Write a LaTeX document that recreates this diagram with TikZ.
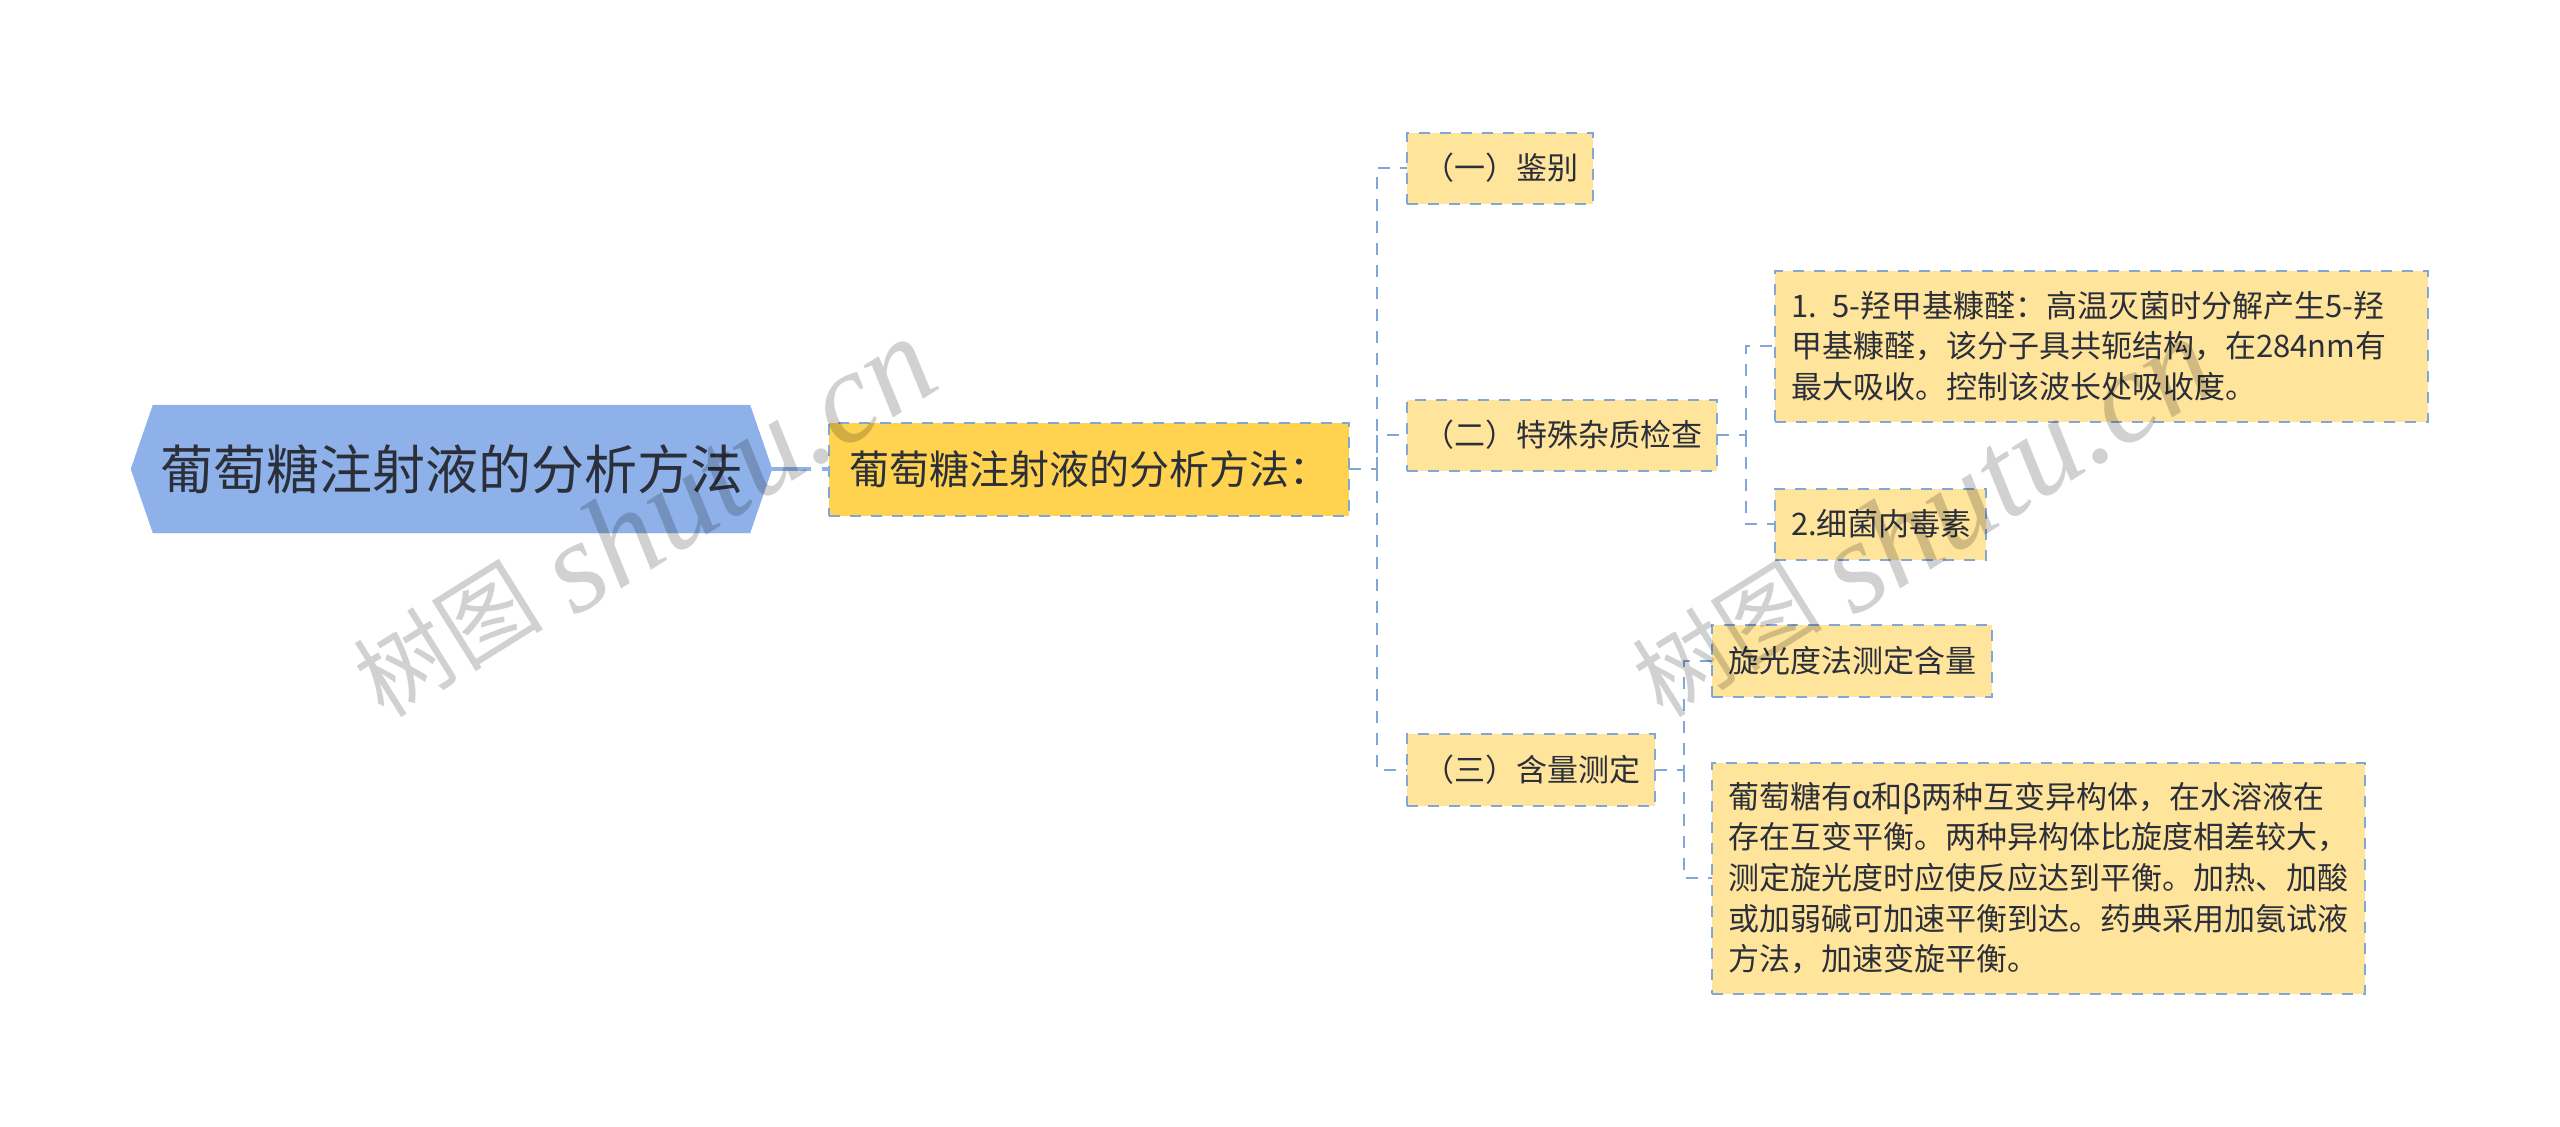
\documentclass[tikz,border=0pt]{standalone}
\usepackage{fontspec}
\setmainfont{Noto Sans CJK SC}
\newfontfamily\markfont[ItalicFont=Liberation Serif Italic]{Liberation Serif}
\usetikzlibrary{positioning,shapes.symbols}
\definecolor{rootblue}{HTML}{8EB1E9}
\definecolor{mainyellow}{HTML}{FFD34F}
\definecolor{leafyellow}{HTML}{FFE49C}
\definecolor{linkblue}{HTML}{82A6D6}
\definecolor{inkdark}{HTML}{2B2F3A}
\tikzset{
  rootbox/.style={shape=signal, signal to=east and west, signal pointer angle=142,
    fill=rootblue, draw=rootblue, text=inkdark, font=\fontsize{53}{60}\selectfont,
    minimum width=641pt, minimum height=128pt, inner sep=0pt, outer sep=0pt},
  mainbox/.style={fill=mainyellow, draw=linkblue, text=inkdark, dash pattern=on 11pt off 10pt,
    line width=2pt, font=\fontsize{40}{45}\selectfont, minimum height=93pt,
    inner xsep=20pt, inner ysep=0pt, outer sep=0pt},
  leafbox/.style={fill=leafyellow, draw=linkblue, text=inkdark, dash pattern=on 11pt off 10pt,
    line width=2pt, font=\fontsize{31}{40.6}\selectfont, align=left,
    inner xsep=16pt, inner ysep=0pt, outer sep=0pt},
  link/.style={draw=linkblue, line width=2pt, dash pattern=on 12pt off 10pt},
  rootlink/.style={draw=rootblue, line width=3.5pt, dash pattern=on 39pt off 11pt},
  wmark/.style={text=black, opacity=.18, rotate=32, font=\fontsize{95}{110}\selectfont}
}
\begin{document}
\begin{tikzpicture}[x=1pt,y=-1pt]
  \useasboundingbox (0,0) rectangle (2560,1127);
  \node[rootbox] (root) at (451.5,469) {葡萄糖注射液的分析方法};
  \node[mainbox, text width=480pt] (main) [right = 57pt of root] {葡萄糖注射液的分析方法：};
  % first level
  \node[leafbox, text width=154pt, minimum height=71pt] (jianbie) [right = 58pt of main, yshift=301pt] {（一）鉴别};
  \node[leafbox, text width=278pt, minimum height=71pt] (zazhi) [right = 58pt of main, yshift=34pt] {（二）特殊杂质检查};
  \node[leafbox, text width=216pt, minimum height=72pt] (hanliang) [right = 58pt of main, yshift=-301pt] {（三）含量测定};
  % second level
  \node[leafbox, text width=621pt, minimum height=151pt] (qiangjia) [right = 58pt of zazhi, yshift=89pt] {1. 5-羟甲基糠醛：高温灭菌时分解产生5-羟\\甲基糠醛，该分子具共轭结构，在284nm有\\最大吸收。控制该波长处吸收度。};
  \node[leafbox, text width=179pt, minimum height=71pt] (xijun) [right = 58pt of zazhi, yshift=-89pt] {2.细菌内毒素};
  \node[leafbox, text width=248pt, minimum height=72pt] (xuanguang) [right = 57pt of hanliang, yshift=109pt] {旋光度法测定含量};
  \node[leafbox, text width=621pt, minimum height=231pt] (putao) [right = 57pt of hanliang, yshift=-108pt] {葡萄糖有α和β两种互变异构体，在水溶液在\\存在互变平衡。两种异构体比旋度相差较大，\\测定旋光度时应使反应达到平衡。加热、加酸\\或加弱碱可加速平衡到达。药典采用加氨试液\\方法，加速变旋平衡。};
  % connectors
  \coordinate[right = 28pt of main] (trunkA);
  \coordinate[right = 29pt of zazhi] (trunkB);
  \coordinate[right = 29pt of hanliang] (trunkC);
  \draw[rootlink] (root.east) -- (main.west);
  \draw[link] (main.east) -- (trunkA) |- (jianbie.west);
  \draw[link] (trunkA) |- (zazhi.west);
  \draw[link] (trunkA) |- (hanliang.west);
  \draw[link] (zazhi.east) -- (trunkB) |- (qiangjia.west);
  \draw[link] (trunkB) |- (xijun.west);
  \draw[link] (hanliang.east) -- (trunkC) |- (xuanguang.west);
  \draw[link] (trunkC) |- (putao.west);
  % watermark
  \node[wmark] (markA) at (644,520) {\raisebox{14pt}{树图}\hspace{25pt}{\markfont\itshape\fontsize{130}{130}\selectfont shutu.cn}};
  \node[wmark] (markB) at (1923,520) {\raisebox{14pt}{树图}\hspace{25pt}{\markfont\itshape\fontsize{130}{130}\selectfont shutu.cn}};
\end{tikzpicture}
\end{document}
